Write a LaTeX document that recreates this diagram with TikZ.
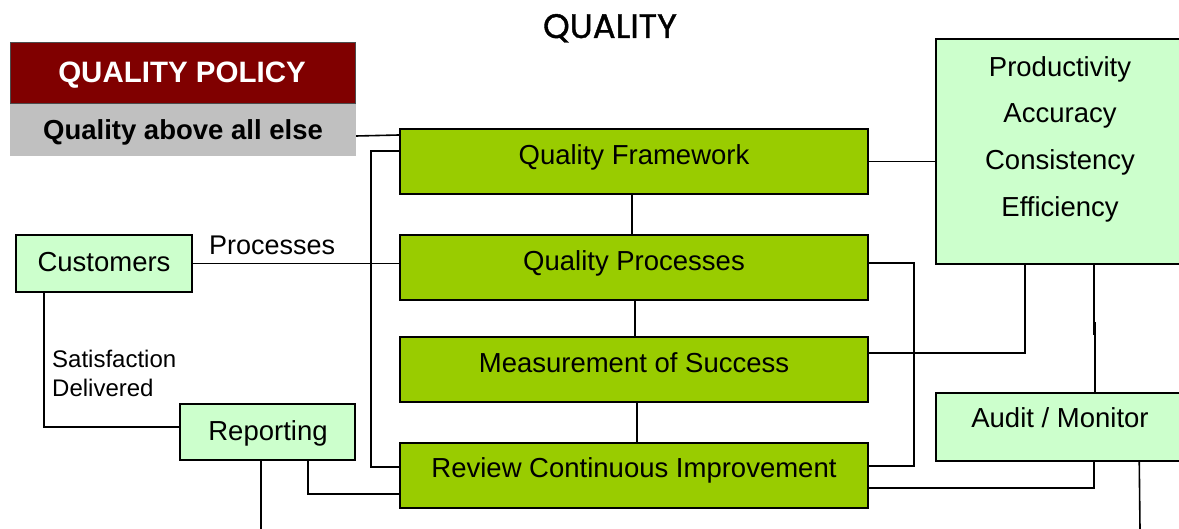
\documentclass[tikz,border=0pt]{standalone}
\usepackage{fontspec}
\setmainfont{Liberation Sans}
\newfontfamily\titlefont[FakeBold=1.2]{Poppins}
\definecolor{qgreen}{HTML}{99CC00}
\definecolor{qlight}{HTML}{CCFFCC}
\definecolor{qred}{HTML}{800000}
\definecolor{qgray}{HTML}{C0C0C0}
\tikzset{
  gbox/.style={draw=black, line width=2pt, fill=qgreen, inner sep=0pt, minimum width=468pt, minimum height=65pt},
  lbox/.style={draw=black, line width=1.5pt, fill=qlight, inner sep=0pt},
  txt/.style={inner sep=0pt, anchor=base, font=\fontsize{27.5}{33}\selectfont},
  small/.style={inner sep=0pt, anchor=base west, font=\fontsize{24}{29}\selectfont},
  conn/.style={line width=1.6pt, draw=black}
}
\begin{document}
\begin{tikzpicture}[x=1pt, y=-1pt]
\useasboundingbox (0,0) rectangle (1179,529);
\fill[white] (0,0) rectangle (1179,529);

% title
\node[inner sep=0pt, anchor=base, font=\titlefont\fontsize{34}{40}\selectfont] (title) at (610,38) {QUALITY};

% policy boxes
\node[draw=black!70, line width=1pt, fill=qred, inner sep=0pt, minimum width=345pt, minimum height=61pt] (pol) at (182.5,73.5) {};
\node[inner sep=0pt, anchor=base, text=white, font=\bfseries\fontsize{29.5}{35}\selectfont] (polt) at (182,83) {QUALITY POLICY};
\node[fill=qgray, inner sep=0pt, minimum width=346pt, minimum height=52pt] (gray) at (183,130) {};
\node[inner sep=0pt, anchor=base, font=\bfseries\fontsize{27.5}{33}\selectfont] (grayt) at (183,140) {Quality above all else};

% green boxes
\node[gbox] (qf) at (634,161.5) {};
\node[txt] (qft) at (634,165) {Quality Framework};
\node[gbox] (pr) at (634,267.5) {};
\node[txt] (prt) at (634,271) {Quality Processes};
\node[gbox] (ms) at (634,369.5) {};
\node[txt] (mst) at (634,373) {Measurement of Success};
\node[gbox] (rv) at (634,475.5) {};
\node[txt] (rvt) at (634,478) {Review Continuous Improvement};

% light boxes
\node[lbox, minimum width=176pt, minimum height=57pt] (cust) at (104,263.5) {};
\node[txt] (custt) at (104,272) {Customers};
\node[lbox, minimum width=175pt, minimum height=56pt] (rep) at (267.5,432) {};
\node[txt] (rept) at (268,440) {Reporting};
\node[lbox, minimum width=250pt, minimum height=225pt] (big) at (1061,151.5) {};
\node[txt] (b1) at (1060,77) {Productivity};
\node[txt] (b2) at (1060,123) {Accuracy};
\node[txt] (b3) at (1060,170) {Consistency};
\node[txt] (b4) at (1060,216.5) {Efficiency};
\node[lbox, minimum width=250pt, minimum height=68pt] (aud) at (1061,427) {};
\node[txt] (audt) at (1060,428) {Audit / Monitor};

% labels
\node[inner sep=0pt, anchor=base west, font=\fontsize{27}{32}\selectfont] (proclab) at (209,255) {Processes};
\node[small] (sat1) at (52,368) {Satisfaction};
\node[small] (sat2) at (52,396.5) {Delivered};

% free ends
\coordinate (bot1) at (261,529);
\coordinate (bot2) at (1140,529);

% connectors
\draw[conn] ([yshift=-6pt]gray.east) -- ([yshift=-7pt]qf.north west);
\draw[conn] ([yshift=-23pt]qf.north west) -- ++(-28,0) |- ([yshift=-25pt]rv.north west);
\draw[conn] (cust.east) -- (cust.east -| pr.west);
\draw[conn] ([xshift=29pt]cust.south west) |- ([yshift=5pt]rep.west);
\draw[conn] ([xshift=-6.5pt]rep.south) -- (bot1);
\draw[conn] ([xshift=40.5pt]rep.south) |- ([yshift=-52pt]rv.north west);
\draw[conn] ([xshift=-2pt]qf.south) -- ([xshift=-2pt]pr.north);
\draw[conn] ([xshift=1pt]pr.south) -- ([xshift=1pt]ms.north);
\draw[conn] ([xshift=3pt]ms.south) -- ([xshift=3pt]rv.north);
\draw[conn] (qf.east) -- (qf.east -| big.west);
\draw[conn] ([yshift=-29pt]pr.north east) -- ++(45,0) |- ([yshift=-24pt]rv.north east);
\draw[conn] ([yshift=-17pt]ms.north east) -| ([xshift=90pt]big.south west);
\draw[conn] ([xshift=158.5pt]big.south west) -- ++(0,70);
\draw[conn] ([xshift=160pt]aud.north west) -- ++(0,-70);
\draw[conn] ([xshift=159pt]aud.south west) |- ([yshift=-46pt]rv.north east);
\draw[conn] ([xshift=204pt]aud.south west) -- (bot2);
\end{tikzpicture}
\end{document}
